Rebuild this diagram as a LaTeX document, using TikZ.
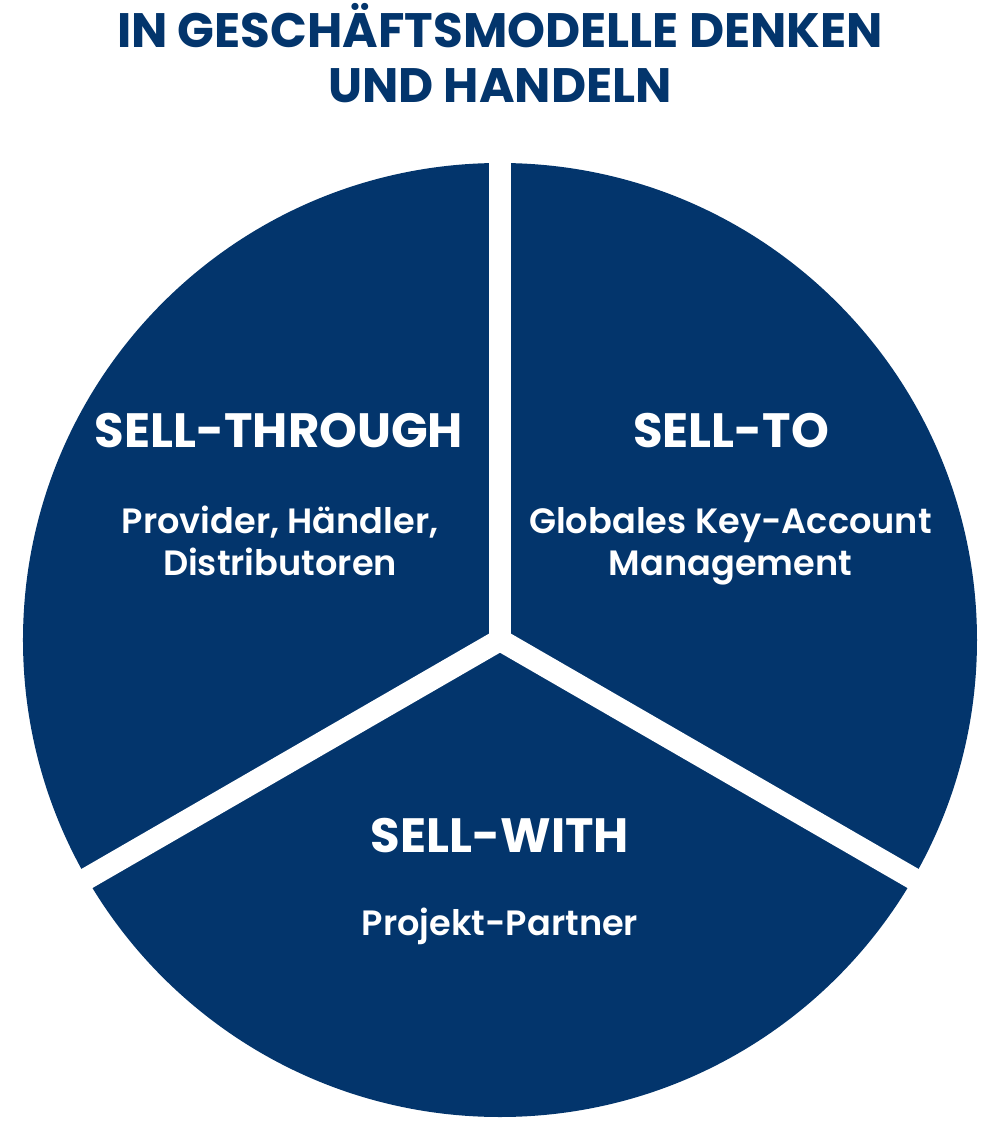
\documentclass[tikz,border=0pt]{standalone}
\usepackage{fontspec}
\setmainfont{Poppins}
\newfontfamily\subfont{Poppins SemiBold}
\usetikzlibrary{positioning}
\definecolor{modelblue}{RGB}{3, 53, 108}

\begin{document}
\begin{tikzpicture}[
      title/.style={font=\fontsize{27.5}{31.8}\selectfont\bfseries, text=modelblue, align=center, anchor=base, inner sep=0pt},
      head/.style={font=\fontsize{27.4}{30}\selectfont\bfseries, text=white, anchor=base, inner sep=0pt},
      sub/.style={font=\fontsize{20}{23.8}\selectfont\subfont, text=white, align=center, anchor=base, inner sep=0pt},
      cut/.style={white, line width=0.44cm}
    ]
      \useasboundingbox (-10,-10) rectangle (10,12.8);

      % pie
      \fill[modelblue] (0,0) circle (9.54);
      \coordinate (C) at (0,0);
      \coordinate (T) at (90:10);
      \coordinate (L) at (210:10);
      \coordinate (R) at (330:10);
      \draw[cut] (C) -- (T);
      \draw[cut] (C) -- (L);
      \draw[cut] (C) -- (R);

      % base = last line
      \node[title] (head) at (0,10.74) {IN GESCHÄFTSMODELLE DENKEN\\UND HANDELN};

      \node[head] (through) at (-4.42,3.84) {SELL-THROUGH};
      \node[sub] (throughtxt) at (-4.4,1.3) {Provider, Händler,\\Distributoren};

      \node[head] (to) at (4.62,3.84) {SELL-TO};
      \node[sub] (totxt) at (4.61,1.3) {Globales Key-Account\\Management};

      \node[head] (with) at (0,-4.24) {SELL-WITH};
      \node[sub] (withtxt) at (0,-5.9) {Projekt-Partner};
    \end{tikzpicture}
\end{document}
